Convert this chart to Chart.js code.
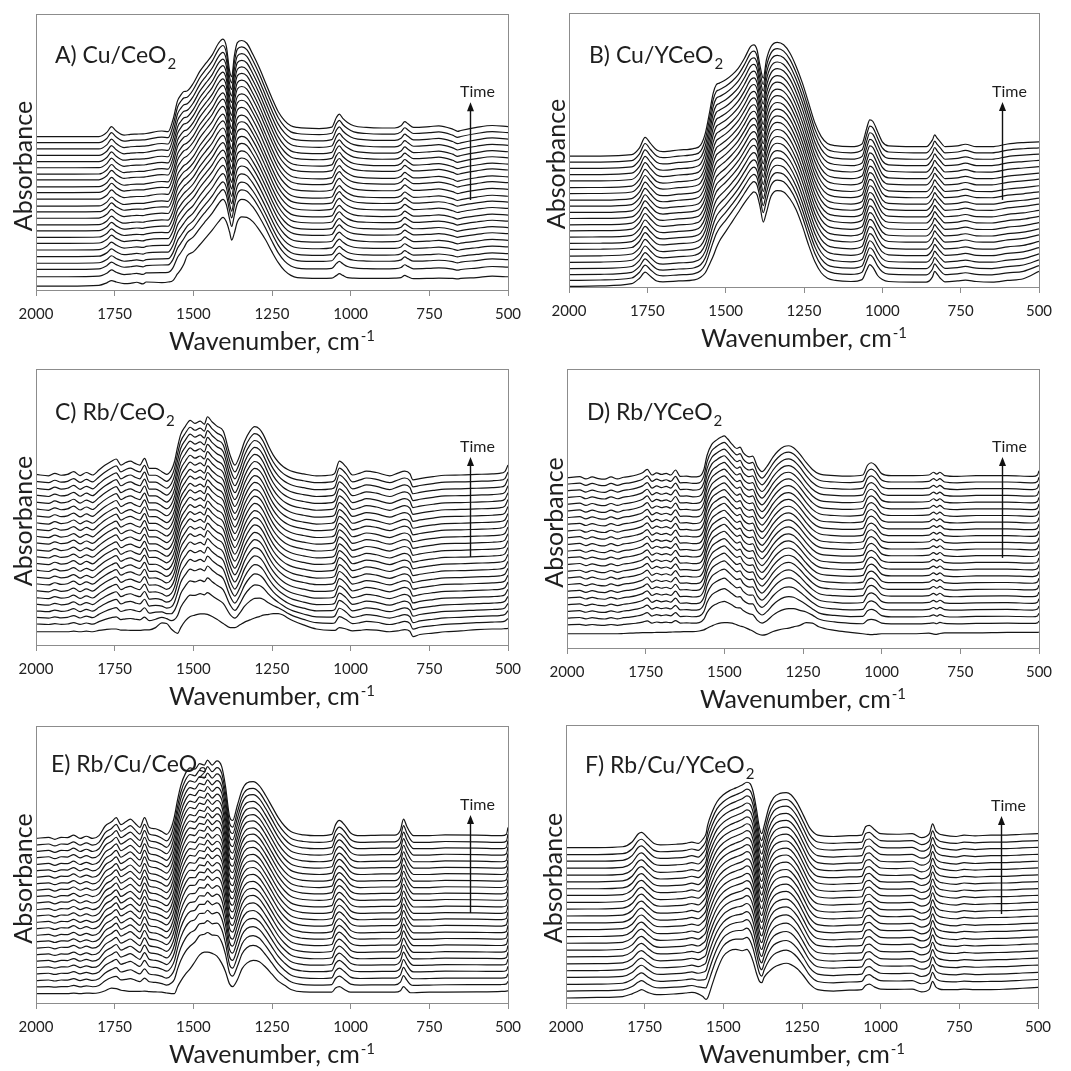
<!DOCTYPE html>
<html>
<head>
<meta charset="utf-8">
<script src="https://cdn.jsdelivr.net/npm/chart.js@4"></script>
<style>
  html, body { margin: 0; padding: 0; background: #fff; overflow: hidden; }
  #wrap { position: relative; width: 1071px; height: 1071px; }
  canvas { position: absolute; }
</style>
</head>
<body>
<div id="wrap"></div>
<script>
// Each panel: wavenumber grid, first (bottom) and last (top) spectrum relative to its own baseline,
// vertical offset of every trace and how far along each trace is from the first to the last shape.

// A) Cu/CeO2
const aWave = [2000,1900,1800,1775,1760,1745,1720,1700,1680,1660,1650,1600,1580,1565,1550,1540,1530,1520,1500,1480,1460,1440,1420,1406,1395,1385,1378,1370,1360,1346,1330,1310,1290,1270,1250,1230,1210,1190,1170,1100,1060,1045,1036,1025,1010,990,950,900,860,840,828,818,800,750,720,676,660,650,600,550,500];
const aFirst = [0,0,0.3,1.2,2,1.5,0.9,1,1.4,0.8,1.5,1.3,1.5,2,4.5,6,8,10.9,12.4,14.9,17.6,20.3,23.3,24.9,23.3,19.7,16.7,19.1,23.3,25.1,24.9,23.3,20.3,16.7,12.4,8.5,5.6,3.9,3.1,2.8,2.9,3.9,4.5,3.9,3.1,2.9,2.8,2.8,2.9,3.1,3.9,3.4,2.7,2.8,2.9,2.8,2.6,2.8,3.1,3.6,3.4];
const aLast = [0,0,0,1.5,3.6,2,0.5,0.8,0.9,1,1.1,2,1.8,6,13,15,16.3,16.5,19.3,23.5,26.6,29.6,33.8,35.3,32.6,24,21.7,29,34,34.8,33.8,29.6,24.8,19.3,13.9,9,5.8,3.9,3.3,2.9,3.4,7,8.1,6.6,5.1,3.9,3.3,3.1,3.1,3.9,5.4,4.6,3.3,3.6,3.9,2.7,1.9,2.2,3.3,4,3.6];
const aOffsets = [1.4,4.8,7.5,9.7,12.1,14.5,16.9,19.1,21.4,23.6,26.0,28.3,30.4,32.9,35.3,37.4,39.9,42.0,44.3,46.5,48.8,51.1,53.4,55.6];
const aWeights = [0,0.3,0.38,0.44,0.5,0.55,0.6,0.64,0.68,0.72,0.75,0.78,0.81,0.84,0.86,0.88,0.9,0.92,0.94,0.95,0.96,0.97,0.99,1];

// B) Cu/YCeO2
const bWave = [2000,1900,1800,1775,1757,1740,1720,1700,1650,1600,1580,1565,1550,1540,1530,1520,1500,1480,1460,1440,1420,1410,1400,1390,1380,1370,1355,1335,1315,1295,1275,1255,1235,1215,1195,1175,1150,1100,1065,1050,1040,1030,1015,1000,980,900,860,840,833,825,815,800,760,735,700,650,600,550,500];
const bFirst = [0,0.2,1,3,5.2,3.7,2,1.7,2,2.4,3.4,5,8.5,11,14,16.5,20,23.5,27,30.5,33.5,34.5,33.5,29,23.5,27,33,35,34.5,32,28,22,15,9,5,3,2.2,1.8,2.5,6,8,7,4,2.5,1.8,1.6,1.6,3.5,5.5,4.5,3,1.7,2,2.3,1.8,1.6,2.2,2.8,5.5];
const bLast = [0,0,0.5,3,6.8,4.6,2.2,1.6,2.2,2.8,4,8.3,16.8,22.9,26,26.6,27.8,29.6,32,35.7,40,40.6,38.8,32.7,28.4,35.1,40,41.5,40.6,37.6,32.7,26.6,19.3,12,7.1,4.6,3.8,3.4,4.4,10.1,13.2,12.6,8.9,5.2,3.7,3.4,3.4,5.9,7.7,6.5,5.2,3.4,3.7,4.3,3.4,3.4,4.4,4.9,5.2];
const bOffsets = [0.2,2.4,4.5,6.7,9.0,11.3,13.7,15.9,18.2,20.5,22.7,25.0,27.2,29.5,31.7,34.1,36.3,38.7,41.0,43.3,45.6,47.8];
const bWeights = [0,0.25,0.35,0.42,0.48,0.53,0.58,0.62,0.66,0.7,0.73,0.76,0.79,0.82,0.85,0.87,0.9,0.92,0.94,0.96,0.98,1];

// C) Rb/CeO2
const cWave = [2000,1960,1940,1920,1900,1880,1860,1840,1820,1800,1780,1760,1745,1730,1715,1700,1685,1670,1655,1640,1620,1600,1585,1570,1560,1550,1540,1525,1510,1495,1478,1465,1455,1440,1425,1405,1383,1368,1352,1337,1320,1305,1290,1278,1260,1246,1230,1214,1200,1183,1150,1109,1060,1050,1036,1015,994,970,950,918,876,850,828,812,802,780,738,700,650,600,550,527,510,500];
const cFirst = [0,0,0,0,0,0.2,0,0.2,0,0.5,0.8,1,1,0.6,0.6,0.5,0.5,0.5,0.7,0.7,1.5,3.2,3,1,0,-0.6,1.5,4,5.5,6,6.5,6.5,6.3,5.5,4.5,3,1.5,1.5,2.5,3.5,4.3,5,5.5,6,6.3,6.6,6.6,6,5,4,2.5,1,0.5,0.5,1.5,1,0.3,0.5,0.8,0.6,0,0.3,0.8,0.2,-1.8,-1,-0.5,0,0.3,0.8,1,1,1.1,1.2];
const cLast = [0,-0.5,0.4,-0.3,0,1,-0.4,0.7,-0.2,1.6,3.4,4.8,5.6,3.4,4.3,4.8,4,3.4,5.8,2.2,2.2,1,0,1.6,4.6,10,14.5,17.5,19.6,18.5,19.3,18.2,20.9,19,17.5,15.7,7,3.4,7,12,15.7,17.3,16.5,14.5,10,7,4.5,2.8,1.8,1,0.2,-0.5,-0.2,0.5,4.8,2.8,-0.2,0.5,1.2,0.7,-0.5,0.5,1.2,0.3,-2,-1.5,-0.8,-0.3,-0.2,0,0.2,0.4,1,3.4];
const cOffsets = [4.8,7.6,10.0,12.4,14.8,17.2,19.7,22.2,24.6,27.1,29.6,32.0,34.5,37.0,39.4,41.9,44.3,46.8,49.3,51.8,54.3,56.8,59.3,61.8];
const cWeights = [0,0.35,0.55,0.68,0.76,0.82,0.86,0.89,0.91,0.93,0.94,0.95,0.96,0.97,0.97,0.98,0.98,0.99,0.99,1,1,1,1,1];

// D) Rb/YCeO2
const dWave = [2000,1960,1940,1920,1900,1880,1860,1840,1820,1800,1780,1760,1745,1730,1715,1700,1685,1670,1655,1640,1620,1600,1580,1565,1555,1540,1525,1510,1500,1490,1475,1460,1450,1440,1420,1410,1395,1380,1365,1345,1330,1310,1295,1280,1260,1240,1220,1200,1150,1100,1060,1045,1033,1020,1000,970,900,850,835,825,815,800,760,700,600,520,505,500];
const dFirst = [0,0,0,0,0,0,0,0,0.1,0.2,0.3,0.4,0.4,0.4,0.5,0.5,0.5,0.6,0.7,0.7,0.8,0.8,1,1.4,2,2.8,3.5,3.9,4,4,3.8,3.2,2.8,2.5,1.5,1,0,-0.5,-0.2,0.8,1.3,1.8,2,2.5,3,4,3.8,2.5,1.2,0.5,0,-0.2,-0.3,-0.2,0,0,0,0.2,-0.1,-0.2,0.1,0.3,0.3,0.3,0.5,0.5,0.5,0.6];
const dLast = [0,0.4,-0.4,0.3,-0.3,-0.5,0.3,-0.4,0.2,0.5,1,1.8,3,1,1.8,1.2,1.6,1,2.8,0.5,0.6,0.3,0.5,3,8,12,13.5,14.6,15,14,12,10.5,11,9,7.5,7.8,4,2.2,4,7.5,9.5,11.2,11.5,10.8,8.5,5.5,3,1.5,0.8,0.6,1,4.5,5.4,4.5,1.5,0.8,0.8,1,2,1.3,2,0.8,0.5,0.8,0.8,0.5,1,2.5];
const dOffsets = [5.1,8.3,10.7,13.1,15.5,17.9,20.3,22.7,25.1,27.5,29.9,32.3,34.7,37.1,39.5,41.9,44.3,46.7,49.1,51.5,53.9,56.3,58.7,61.0];
const dWeights = [0,0.4,0.6,0.72,0.8,0.85,0.88,0.9,0.92,0.94,0.95,0.96,0.97,0.98,0.98,0.99,0.99,1,1,1,1,1,1,1];

// E) Rb/Cu/CeO2
const eWave = [2000,1960,1940,1920,1900,1880,1860,1840,1820,1800,1780,1760,1745,1730,1715,1700,1685,1670,1655,1640,1620,1600,1585,1570,1560,1550,1540,1525,1510,1495,1480,1465,1455,1440,1425,1410,1398,1385,1375,1360,1345,1330,1310,1290,1270,1250,1230,1210,1190,1150,1100,1060,1048,1036,1020,1000,970,900,860,842,832,822,810,800,750,700,600,520,505,500];
const eFirst = [0,0,0,0,0,0.2,0,0.2,0.1,0.3,1,2,1.8,1.2,1,0.8,0.8,0.8,0.9,0.7,0.6,0.5,0.2,0,0,2.5,4.5,7,9,11.5,14,15,15,14.5,13.5,11,8,3.5,2.5,5,9,11,12,11.5,9.5,7,4.5,3,1.5,0.6,0.5,0.5,2,2.5,1.5,0.5,0.5,0.5,0.5,1,2.5,1.5,0.3,0.3,0.5,0.5,0.6,0.8,0.9,1];
const eLast = [0,0.4,-0.3,0.4,0.3,1.2,0,0.8,0,1,4.5,6,7.5,5,6,7,5.5,4,7.5,4,3.5,2.5,1.5,4,8,14,19,23.5,25.5,25,27,26.5,28.3,26.5,28,26,19,8,6.5,12,17.5,20,20.5,19,15.5,11.5,7.5,4.5,2.5,1.3,1,1.5,5,6.5,5,2,1,1.2,1.2,3,7,4.5,2,1,1,1.3,1.2,1,1.5,4];
const eOffsets = [3.4,5.8,8.1,10.5,12.8,15.1,17.4,19.8,22.1,24.4,26.8,29.1,31.4,33.7,36.1,38.4,40.7,43.0,45.4,47.7,50.0,52.4,54.7,57.0,59.4];
const eWeights = [0,0.35,0.5,0.6,0.68,0.74,0.79,0.83,0.86,0.88,0.9,0.92,0.93,0.94,0.95,0.96,0.97,0.97,0.98,0.98,0.99,0.99,1,1,1];

// F) Rb/Cu/YCeO2
const fWave = [2000,1900,1820,1790,1770,1760,1740,1720,1700,1650,1620,1600,1580,1565,1555,1550,1535,1520,1500,1480,1460,1440,1425,1415,1405,1395,1385,1378,1370,1355,1340,1320,1300,1285,1265,1245,1225,1200,1150,1100,1060,1048,1036,1020,1000,950,900,870,845,835,825,815,800,760,735,700,650,600,550,500];
const fFirst = [0,0.2,0.5,1.5,2.5,3,2,1.3,1.2,1.5,1.8,2,1.5,0.5,-0.5,0,5,10,15,17,17.5,17,17.5,16,13,9,6,5.5,7.5,9.5,11,12,12.5,12,10.5,8,5,3,2.5,2.8,3,4.5,5,4,3.2,3.1,3.2,2.2,3.2,6,4,3.3,3,3,3.2,3,3,3.2,3.5,3.8];
const fLast = [0,0,0.3,2,5,5.5,3.5,1.5,1,1.2,1.5,2,1.5,3,5,8,13,16.5,19,20.5,21.5,22.5,23.5,23,20,14,7,5,8,14.5,18,19.5,19.8,19,16,11.5,7,4.5,4,4.3,4.5,7.5,8,6.5,5,4.8,5,3.6,5,8.5,6,5,4.5,4,4.5,4.2,4.5,4.5,4.8,5];
const fOffsets = [1.8,4.3,6.7,9.2,11.6,14.1,16.6,19.0,21.5,23.9,26.4,28.8,31.3,33.8,36.2,38.7,41.1,43.6,46.0,48.5,51.0,53.4,55.9];
const fWeights = [0,0.3,0.45,0.55,0.63,0.7,0.75,0.8,0.84,0.87,0.9,0.92,0.94,0.95,0.96,0.97,0.98,0.98,0.99,0.99,1,1,1];

const xTicks = [2000, 1750, 1500, 1250, 1000, 750, 500];

const panels = [
  { name: 'A) Cu/CeO', wave: aWave, first: aFirst, last: aLast, offsets: aOffsets, weights: aWeights,
    box: { l: 36, r: 508, t: 14, b: 290 }, lab: { dx: 19, dy: 49 }, arrow: { x: 620, y0: 32.6, y1: 68 } },
  { name: 'B) Cu/YCeO', wave: bWave, first: bFirst, last: bLast, offsets: bOffsets, weights: bWeights,
    box: { l: 569, r: 1039, t: 13, b: 287 }, lab: { dx: 20, dy: 50 }, arrow: { x: 618, y0: 31.8, y1: 67.5 } },
  { name: 'C) Rb/CeO', wave: cWave, first: cFirst, last: cLast, offsets: cOffsets, weights: cWeights,
    box: { l: 36, r: 508, t: 369, b: 645 }, lab: { dx: 19, dy: 51 }, arrow: { x: 620, y0: 31.9, y1: 68.1 } },
  { name: 'D) Rb/YCeO', wave: dWave, first: dFirst, last: dLast, offsets: dOffsets, weights: dWeights,
    box: { l: 567, r: 1039, t: 369, b: 648 }, lab: { dx: 20, dy: 51 }, arrow: { x: 617, y0: 32.3, y1: 68.5 } },
  { name: 'E) Rb/Cu/CeO', wave: eWave, first: eFirst, last: eLast, offsets: eOffsets, weights: eWeights,
    box: { l: 36, r: 508, t: 726, b: 1003 }, lab: { dx: 15, dy: 46 }, arrow: { x: 620, y0: 32.5, y1: 67.9 } },
  { name: 'F) Rb/Cu/YCeO', wave: fWave, first: fFirst, last: fLast, offsets: fOffsets, weights: fWeights,
    box: { l: 566, r: 1038, t: 725, b: 1003 }, lab: { dx: 19, dy: 48 }, arrow: { x: 618, y0: 32, y1: 67.3 } }
];

Chart.defaults.font.family = 'Lato';
Chart.defaults.color = '#222';

const TEXT = '#1e1e1e';

const decor = {
  id: 'decor',
  afterDraw(chart, args, opts) {
    const { ctx, chartArea: a, scales } = chart;
    const p = opts.panel;
    ctx.save();

    // plot frame
    ctx.strokeStyle = '#8c8c8c';
    ctx.lineWidth = 1;
    ctx.strokeRect(Math.round(a.left) + 0.5, Math.round(a.top) + 0.5,
      Math.round(a.right - a.left), Math.round(a.bottom - a.top));

    ctx.fillStyle = TEXT;
    ctx.textAlign = 'left';
    ctx.textBaseline = 'alphabetic';

    // panel label with subscript
    ctx.font = '23px Lato';
    const lx = a.left + p.lab.dx, ly = a.top + p.lab.dy;
    ctx.fillText(p.name, lx, ly);
    const lw = ctx.measureText(p.name).width;
    ctx.font = '15px Lato';
    ctx.fillText('2', lx + lw + 1, ly + 6);

    // x axis title with superscript
    const main = 'Wavenumber, cm';
    ctx.font = '25px Lato';
    const mw = ctx.measureText(main).width;
    ctx.font = '15px Lato';
    const sw = ctx.measureText('-1').width;
    const sx = (a.left + a.right) / 2 - (mw + sw + 1) / 2;
    const by = a.bottom + 60;
    ctx.font = '25px Lato';
    ctx.fillText(main, sx, by);
    ctx.font = '15px Lato';
    ctx.fillText('-1', sx + mw + 1, by - 9);

    // y axis title
    ctx.save();
    ctx.translate(a.left - 12, (a.top + a.bottom) / 2 + 14);
    ctx.rotate(-Math.PI / 2);
    ctx.font = '25px Lato';
    ctx.textAlign = 'center';
    ctx.textBaseline = 'middle';
    ctx.fillText('Absorbance', 0, 0);
    ctx.restore();

    // time arrow
    const x = Math.round(scales.x.getPixelForValue(p.arrow.x)) + 0.5;
    const y0 = scales.y.getPixelForValue(p.arrow.y0);
    const y1 = scales.y.getPixelForValue(p.arrow.y1);
    ctx.strokeStyle = '#111';
    ctx.fillStyle = '#111';
    ctx.lineWidth = 1.4;
    ctx.beginPath();
    ctx.moveTo(x, y0);
    ctx.lineTo(x, y1 + 8);
    ctx.stroke();
    ctx.beginPath();
    ctx.moveTo(x, y1);
    ctx.lineTo(x - 3.5, y1 + 9);
    ctx.lineTo(x + 3.5, y1 + 9);
    ctx.closePath();
    ctx.fill();
    ctx.fillStyle = TEXT;
    ctx.font = '16px Lato';
    ctx.textAlign = 'center';
    ctx.fillText('Time', x + 7, y1 - 5);

    ctx.restore();
  }
};

const wrap = document.getElementById('wrap');

panels.forEach(p => {
  const canvas = document.createElement('canvas');
  const padL = 36, padR = 28, padT = 13, below = 70;
  const w = (p.box.r - p.box.l) + padL + padR;
  const h = (p.box.b - p.box.t) + padT + below;
  canvas.width = w;
  canvas.height = h;
  canvas.style.left = (p.box.l - padL) + 'px';
  canvas.style.top = (p.box.t - padT) + 'px';
  canvas.style.width = w + 'px';
  canvas.style.height = h + 'px';
  wrap.appendChild(canvas);

  const datasets = p.offsets.map((off, i) => ({
    data: p.wave.map((wn, k) => ({
      x: wn,
      y: off + (1 - p.weights[i]) * p.first[k] + p.weights[i] * p.last[k]
    })),
    borderColor: '#151515',
    borderWidth: 1.2,
    pointRadius: 0,
    fill: false,
    cubicInterpolationMode: 'monotone'
  }));

  new Chart(canvas, {
    type: 'line',
    data: { datasets },
    options: {
      responsive: false,
      animation: false,
      layout: { padding: { left: padL, right: padR, top: padT, bottom: below - 42 } },
      plugins: {
        legend: { display: false },
        tooltip: { enabled: false },
        decor: { panel: p }
      },
      scales: {
        x: {
          type: 'linear',
          reverse: true,
          min: 500,
          max: 2000,
          afterBuildTicks: axis => { axis.ticks = xTicks.map(v => ({ value: v })); },
          ticks: {
            callback: v => String(v),
            padding: 9,
            maxRotation: 0,
            font: { size: 15 },
            color: '#222'
          },
          grid: { drawOnChartArea: false, drawTicks: true, tickLength: 6, color: '#8c8c8c' },
          border: { display: false }
        },
        y: {
          display: false,
          min: 0,
          max: 100
        }
      }
    },
    plugins: [decor]
  });
});
</script>
</body>
</html>
